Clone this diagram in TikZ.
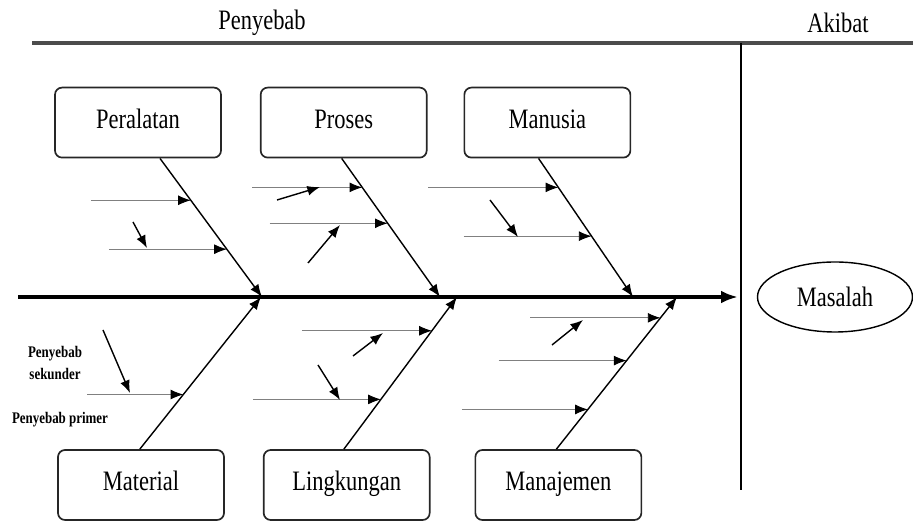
\documentclass[tikz,border=0pt]{standalone}
\usepackage{fontspec}
\setmainfont[FakeStretch=0.8]{Liberation Serif}
\usetikzlibrary{arrows.meta, calc, positioning, shapes.geometric}

\begin{document}
\begin{tikzpicture}[% styles used in image code
        > = {Latex[length=9pt,width=7pt]},
node distance = 9.5mm,
 box/.style = {draw=black!85, line width=1.2pt, rounded corners=5pt,
               minimum width=4.15cm, minimum height=1.75cm,
               text height=2.4ex, text depth=0.7ex,
               inner sep=0pt, font=\fontsize{20}{24}\selectfont},
bone/.style = {->, line width=1pt},
cause/.style = {-{Latex[length=9pt,width=7pt,color=black]},
                line width=0.6pt, draw=black!50},
minor/.style = {->, line width=1pt},
note/.style = {font=\bfseries\fontsize{11.5}{15}\selectfont, align=center}
                    ]
\useasboundingbox (0,0) rectangle (22.825,13.025);
	% header
	\draw[line width=2.5pt, black!70] (0.8,11.95) -- (22.825,11.95);
	\node (penyebab) at (6.55,12.45)  {\fontsize{20}{24}\selectfont Penyebab};
	\node (akibat)   at (20.95,12.45) {\fontsize{20}{24}\selectfont Akibat};
	\draw[line width=1.2pt] (18.525,11.95) -- (18.525,0.775);

	% spine and effect
	\coordinate (tail) at (0.45,5.6);
	\coordinate (head) at (18.45,5.6);
	\draw[-{Latex[length=12pt,width=9pt]}, line width=3.5pt] (tail) -- (head);
	\node[ellipse, draw, line width=1pt, minimum width=3.875cm,
	      minimum height=1.75cm, inner sep=0pt,
	      font=\fontsize{20}{24}\selectfont] (masalah) at (20.875,5.6) {Masalah};

	% categories
	\node[box] (peralatan) at (3.45,9.96) {Peralatan};
	\node[box, right=of peralatan] (proses) {Proses};
	\node[box, right=9mm of proses] (manusia) {Manusia};
	\node[box] (material) at (3.525,0.9) {Material};
	\node[box, right=of material] (lingkungan) {Lingkungan};
	\node[box, right=11mm of lingkungan] (manajemen) {Manajemen};

	% bones
	\coordinate (s1) at ([xshift=5.5mm]peralatan.south);
	\coordinate (s2) at ([xshift=-0.5mm]proses.south);
	\coordinate (s3) at ([xshift=-2.2mm]manusia.south);
	\coordinate (s4) at ([xshift=-0.3mm]material.north);
	\coordinate (s5) at ([xshift=-0.7mm]lingkungan.north);
	\coordinate (s6) at ([xshift=-0.5mm]manajemen.north);
	\coordinate (e1) at (6.55,5.6);
	\coordinate (e2) at (11.0,5.6);
	\coordinate (e3) at (15.825,5.6);
	\coordinate (e4) at (6.525,5.6);
	\coordinate (e5) at (11.425,5.6);
	\coordinate (e6) at (16.925,5.6);
	\foreach \n in {1,...,6}
		\draw[bone] (s\n) -- (e\n);

	% primary causes
	\foreach \n/\p/\l in {1/0.302/2.5, 1/0.655/2.95, 2/0.209/2.75, 2/0.468/2.95,
	                      3/0.209/3.25, 3/0.561/3.2, 4/0.359/2.4, 5/0.778/3.25,
	                      5/0.327/3.2, 6/0.863/3.25, 6/0.582/3.2, 6/0.261/3.15}
		\draw[cause] ($(s\n)!\p!(e\n)+(-\l,0)$) -- ($(s\n)!\p!(e\n)$);

	% secondary causes
	\draw[minor] (3.325,7.475) -- (3.675,6.825);
	\draw[minor] (6.925,8.025) -- (8.0,8.35);
	\draw[minor] (7.7,6.45)    -- (8.5,7.4);
	\draw[minor] (12.25,8.025) -- (12.95,7.1);
	\draw[minor] (2.575,4.775) -- (3.25,3.2);
	\draw[minor] (8.825,4.125) -- (9.575,4.7);
	\draw[minor] (7.95,3.9)    -- (8.5,3.025);
	\draw[minor] (13.8,4.4)    -- (14.575,5.025);

	% legend
	\node[note] (sekunder) at (1.375,3.95)  {Penyebab\\sekunder};
	\node[note] (primer)   at (1.5,2.525)   {Penyebab primer};
\end{tikzpicture}
\end{document}
